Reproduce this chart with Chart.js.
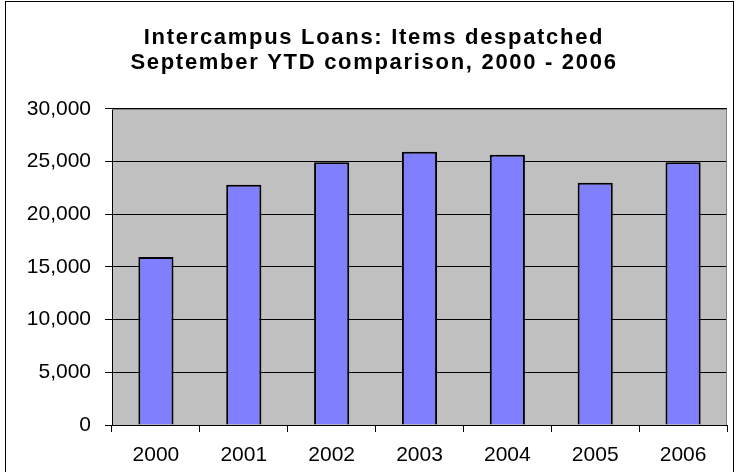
<!DOCTYPE html>
<html lang="en">
<head>
    <meta charset="UTF-8">
    <title>Intercampus Loans: Items despatched</title>
    <script src="https://cdn.jsdelivr.net/npm/chart.js"></script>
    <style>
        body {
            margin: 0;
            padding: 0;
            background: #fff;
            overflow: hidden;
        }
        .frame {
            position: absolute;
            left: 5px;
            top: 1px;
            width: 727px;
            height: 490px;
            border: 1px solid #000;
            pointer-events: none;
        }
        canvas {
            position: absolute;
            left: 0;
            top: 0;
        }
    </style>
</head>
<body>
    <canvas id="loans-chart" width="736" height="472"></canvas>
    <div class="frame"></div>

    <script>
        // data
        const years = ["2000", "2001", "2002", "2003", "2004", "2005", "2006"];
        const itemsDespatched = [15950, 22800, 24950, 25950, 25650, 23000, 24950];
        const titleLines = ["Intercampus Loans: Items despatched", "September YTD comparison, 2000 - 2006"];

        const fontFamily = "'Liberation Sans', Arial, sans-serif";

        // grey plot area with a darker frame, like the old spreadsheet charts
        const plotArea = {
            id: "plotArea",
            beforeDraw(chart) {
                const { ctx, chartArea: a } = chart;
                ctx.save();
                ctx.fillStyle = "#c0c0c0";
                ctx.fillRect(a.left, a.top, a.right - a.left, a.bottom - a.top);
                ctx.restore();

                // the spreadsheet title is a bit spaced out, so widen the letters
                const tb = chart.titleBlock;
                if (tb && !tb._spaced) {
                    const origDraw = tb.draw;
                    tb.draw = function () {
                        this.ctx.save();
                        this.ctx.letterSpacing = "1.7px";
                        origDraw.apply(this, arguments);
                        this.ctx.restore();
                    };
                    tb._spaced = true;
                }
            },
            afterDraw(chart) {
                const { ctx, chartArea: a } = chart;
                ctx.save();
                ctx.strokeStyle = "#808080";
                ctx.lineWidth = 1;
                ctx.beginPath();
                ctx.moveTo(a.left, a.top + 0.5);
                ctx.lineTo(a.right - 0.5, a.top + 0.5);
                ctx.lineTo(a.right - 0.5, a.bottom);
                ctx.stroke();
                ctx.restore();
            }
        };

        const ctx = document.getElementById("loans-chart").getContext("2d");
        const loansChart = new Chart(ctx, {
            type: "bar",
            data: {
                labels: years,
                datasets: [{
                    label: "Items despatched",
                    data: itemsDespatched,
                    backgroundColor: "#8080ff",
                    borderColor: "#000000",
                    borderWidth: 2,
                    barPercentage: 0.4,
                    categoryPercentage: 1.0
                }]
            },
            options: {
                responsive: false,
                animation: false,
                layout: {
                    padding: { top: 0, right: 9, bottom: 0, left: 21 }
                },
                plugins: {
                    legend: { display: false },
                    tooltip: { enabled: false },
                    title: {
                        display: true,
                        text: titleLines,
                        color: "#000",
                        font: { family: fontFamily, size: 22, weight: "bold", lineHeight: 1.136 },
                        padding: { top: 25, bottom: 34 }
                    }
                },
                scales: {
                    x: {
                        afterFit(scale) {
                            scale.height = 47;
                        },
                        grid: {
                            offset: true,
                            drawOnChartArea: false,
                            drawTicks: true,
                            tickLength: 7,
                            tickColor: "#000"
                        },
                        border: { display: true, color: "#000", width: 1 },
                        ticks: {
                            color: "#000",
                            font: { family: fontFamily, size: 21 },
                            padding: 11,
                            maxRotation: 0
                        }
                    },
                    y: {
                        min: 0,
                        max: 30000,
                        afterFit(scale) {
                            scale.width = 91;
                        },
                        grid: {
                            color: "#000",
                            lineWidth: 1,
                            drawTicks: true,
                            tickLength: 7,
                            tickColor: "#000"
                        },
                        border: { display: true, color: "#000", width: 1 },
                        ticks: {
                            stepSize: 5000,
                            color: "#000",
                            font: { family: fontFamily, size: 21 },
                            padding: 14,
                            callback: (v) => v.toLocaleString("en-US")
                        }
                    }
                }
            },
            plugins: [plotArea]
        });
    </script>
</body>
</html>
